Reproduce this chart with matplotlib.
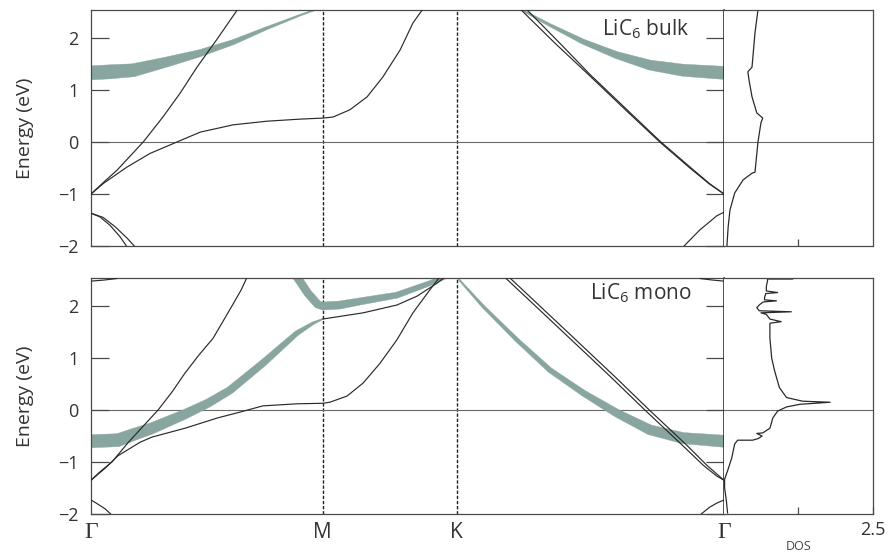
import numpy as np
import matplotlib
matplotlib.use("Agg")
import matplotlib.pyplot as plt

plt.rcParams['font.family'] = ['Open Sans', 'DejaVu Sans']
plt.rcParams['mathtext.default'] = 'regular'

# high-symmetry path  Γ - M - K - Γ  (hexagonal BZ, lengths 1/√3 : 1/3 : 2/3)
K_POINTS = [0.0, 0.577, 0.911, 1.577]
K_LABELS = ['Γ', 'M', 'K', 'Γ']
E_TICKS = [-2, -1, 0, 1, 2]
E_RANGE = (-2.0, 2.54)
DOS_RANGE = (0.0, 2.5)

# ---------------- LiC6 bulk ----------------
BULK_STEEP_K = [0, 0.032, 0.065, 0.130, 0.179, 0.222, 0.264, 0.316, 0.366]
BULK_STEEP_E = [-1.0, -0.77, -0.54, 0.0, 0.48, 0.94, 1.44, 2.0, 2.56]

BULK_LOW_K = [0, 0.032, 0.090, 0.147, 0.214, 0.272, 0.354, 0.438, 0.521, 0.577,
              0.603, 0.645, 0.688, 0.727, 0.770, 0.802, 0.827]
BULK_LOW_E = [-1.0, -0.79, -0.48, -0.22, 0.0, 0.19, 0.33, 0.40, 0.44, 0.46,
              0.48, 0.62, 0.87, 1.25, 1.77, 2.29, 2.56]

BULK_CORE_A_K = [0, 0.022, 0.047, 0.072, 0.090]
BULK_CORE_A_E = [-1.37, -1.44, -1.60, -1.82, -2.02]
BULK_CORE_B_K = [0, 0.030, 0.060, 0.090, 0.110]
BULK_CORE_B_E = [-1.37, -1.45, -1.63, -1.85, -2.02]
BULK_CORE_R_K = [1.475, 1.517, 1.559, 1.577]
BULK_CORE_R_E = [-2.02, -1.69, -1.42, -1.35]

BULK_DIAG_A_K = [1.069, 1.156, 1.243, 1.330, 1.417, 1.492, 1.541, 1.577]
BULK_DIAG_A_E = [2.56, 1.90, 1.27, 0.63, 0.0, -0.50, -0.81, -1.0]
BULK_DIAG_B_K = [1.084, 1.168, 1.243, 1.330, 1.417, 1.492, 1.541, 1.577]
BULK_DIAG_B_E = [2.56, 1.90, 1.30, 0.66, 0.02, -0.48, -0.80, -1.0]

# Li-projected (fat) bands: weight = Li character
BULK_LI_K = [0, 0.047, 0.105, 0.189, 0.272, 0.354, 0.438, 0.521, 0.565]
BULK_LI_E = [1.33, 1.35, 1.38, 1.54, 1.71, 1.92, 2.19, 2.44, 2.56]
BULK_LI_W = [1.0, 1.0, 0.93, 0.71, 0.50, 0.36, 0.21, 0.12, 0.07]

BULK_LI_R_K = [1.069, 1.143, 1.226, 1.310, 1.392, 1.475, 1.577]
BULK_LI_R_E = [2.56, 2.25, 1.93, 1.67, 1.48, 1.38, 1.33]
BULK_LI_R_W = [0.10, 0.21, 0.36, 0.50, 0.71, 0.86, 0.93]

BULK_DOS_E = [2.54, 2.10, 1.44, 1.35, 1.19, 0.87, 0.56, 0.46, 0.37, 0.0,
              -0.58, -0.60, -0.73, -0.98, -1.31, -1.63, -1.98, -2.0]
BULK_DOS = [0.57, 0.52, 0.47, 0.40, 0.42, 0.47, 0.55, 0.65, 0.62, 0.57,
            0.52, 0.47, 0.32, 0.18, 0.10, 0.07, 0.05, 0.05]

# ---------------- LiC6 monolayer ----------------
MONO_STEEP_K = [0, 0.022, 0.052, 0.092, 0.130, 0.167, 0.202, 0.234, 0.269,
                0.304, 0.329, 0.354, 0.374, 0.389]
MONO_STEEP_E = [-1.35, -1.19, -1.0, -0.63, -0.31, 0.0, 0.35, 0.71, 1.06,
                1.38, 1.71, 2.04, 2.31, 2.56]

MONO_LOW_K = [0, 0.035, 0.067, 0.122, 0.152, 0.234, 0.316, 0.371, 0.428, 0.513,
              0.577, 0.595, 0.638, 0.678, 0.720, 0.762, 0.802, 0.844, 0.869]
MONO_LOW_E = [-1.35, -1.12, -0.88, -0.62, -0.52, -0.35, -0.15, -0.04, 0.08, 0.12,
              0.13, 0.15, 0.27, 0.52, 0.90, 1.35, 1.87, 2.31, 2.56]

MONO_DIAG_A_K = [1.030, 1.168, 1.293, 1.380, 1.475, 1.525, 1.559, 1.577]
MONO_DIAG_A_E = [2.56, 1.56, 0.65, 0.0, -0.69, -1.06, -1.27, -1.35]
MONO_DIAG_B_K = [1.041, 1.179, 1.304, 1.391, 1.486, 1.534, 1.565, 1.577]
MONO_DIAG_B_E = [2.56, 1.56, 0.65, 0.0, -0.69, -1.06, -1.27, -1.35]

MONO_CORE_L_K = [0, 0.017, 0.035, 0.052]
MONO_CORE_L_E = [-1.73, -1.81, -1.90, -2.02]
MONO_CORE_R_K = [1.517, 1.541, 1.559, 1.577]
MONO_CORE_R_E = [-2.02, -1.87, -1.79, -1.73]
MONO_TOP_L_K = [0, 0.032, 0.065]
MONO_TOP_L_E = [2.48, 2.50, 2.53]
MONO_TOP_R_K = [1.517, 1.549, 1.577]
MONO_TOP_R_E = [2.53, 2.50, 2.48]

MONO_LI_K = [0, 0.067, 0.110, 0.152, 0.234, 0.291, 0.346, 0.428, 0.513, 0.553,
             0.577, 0.678, 0.762, 0.812, 0.862, 0.882]
MONO_LI_E = [-0.60, -0.58, -0.46, -0.35, -0.08, 0.13, 0.38, 0.90, 1.48, 1.67,
             1.75, 1.87, 2.02, 2.19, 2.44, 2.56]
MONO_LI_W = [0.93, 0.93, 0.86, 0.79, 0.68, 0.60, 0.55, 0.50, 0.36, 0.20,
             0.08, 0, 0, 0, 0, 0]

MONO_V_K = [0.513, 0.540, 0.565, 0.577, 0.620, 0.678, 0.762, 0.844, 0.882]
MONO_V_E = [2.56, 2.25, 2.03, 2.0, 2.02, 2.10, 2.21, 2.44, 2.56]
MONO_V_W = [0.57, 0.57, 0.57, 0.57, 0.57, 0.50, 0.43, 0.36, 0.30]

MONO_LI_R_K = [0.911, 0.976, 1.061, 1.143, 1.226, 1.310, 1.392, 1.475, 1.577]
MONO_LI_R_E = [2.56, 2.0, 1.35, 0.77, 0.33, -0.06, -0.38, -0.54, -0.60]
MONO_LI_R_W = [0.07, 0.21, 0.29, 0.36, 0.43, 0.57, 0.71, 0.79, 0.86]

MONO_DOS_E = [2.52, 2.52, 2.48, 2.38, 2.29, 2.26, 2.24, 2.16, 2.12, 2.10, 2.08,
              2.03, 1.97, 1.91, 1.89, 1.87, 1.84, 1.75, 1.70, 1.67, 1.65, 1.39,
              1.0, 0.75, 0.43, 0.24, 0.17, 0.15, 0.11, 0.06, -0.02, -0.15,
              -0.35, -0.44, -0.45, -0.50, -0.55, -0.58, -0.58, -0.65, -0.92,
              -1.17, -1.33, -1.50, -1.75, -1.98]
MONO_DOS = [1.15, 0.73, 0.73, 0.71, 0.71, 0.90, 0.70, 0.68, 0.68, 0.88, 0.66,
            0.60, 0.55, 0.59, 1.13, 0.62, 0.71, 0.77, 0.96, 0.77, 0.77, 0.77,
            0.80, 0.85, 0.93, 1.05, 1.32, 1.78, 1.27, 1.05, 0.90, 0.82,
            0.77, 0.65, 0.55, 0.64, 0.57, 0.48, 0.23, 0.18, 0.13,
            0.06, 0.01, 0.01, 0.04, 0.06]

BAND_COLOR = '#2a2a2a'
LI_COLOR = '#88a59f'
FRAME_COLOR = '#4a4a4a'
TEXT_COLOR = '#333333'
FAT_PX = 14.0   # ribbon width in pixels for Li weight 1


def thin(ax, k, e):
    ax.plot(k, e, color=BAND_COLOR, lw=0.85, zorder=3, solid_capstyle='round')


def fat(ax, k, e, w):
    """Ribbon of varying width (in screen pixels) around a band."""
    k = np.asarray(k, float)
    e = np.asarray(e, float)
    w = np.asarray(w, float)
    n_fat = int(np.sum(w > 0))
    if n_fat < len(w):
        # rest of the band carries no Li weight: plain line
        thin(ax, k[n_fat - 1:], e[n_fat - 1:])
    k, e, w = k[:n_fat], e[:n_fat], w[:n_fat]

    tr = ax.transData
    pts = tr.transform(np.column_stack([k, e]))
    d = np.gradient(pts, axis=0)
    nrm = np.column_stack([-d[:, 1], d[:, 0]])
    nrm /= np.linalg.norm(nrm, axis=1)[:, None]
    half = np.maximum(w * FAT_PX, 1.3)[:, None] / 2
    poly = np.vstack([pts + nrm * half, (pts - nrm * half)[::-1]])
    poly = tr.inverted().transform(poly)
    ax.fill(poly[:, 0], poly[:, 1], color=LI_COLOR, lw=0.3, ec=LI_COLOR,
            zorder=2)


def style_band_axes(ax, bottom_labels):
    ax.set_xlim(K_POINTS[0], K_POINTS[-1])
    ax.set_ylim(*E_RANGE)
    for s in ax.spines.values():
        s.set_color(FRAME_COLOR)
        s.set_linewidth(0.9)
    ax.spines['right'].set_color('#222222')
    ax.spines['right'].set_linewidth(1.1)
    ax.set_yticks(E_TICKS, [str(v).replace('-', '\u2212') for v in E_TICKS])
    ax.tick_params(axis='y', direction='in', length=13, width=0.9,
                   color=FRAME_COLOR, left=True, right=True,
                   labelsize=13, labelcolor=TEXT_COLOR, pad=9)
    for k in K_POINTS[1:3]:
        ax.axvline(k, color='#222222', lw=1.0, ls=(0, (2.4, 1.3)), zorder=1)
    ax.axhline(0, color='#6a6a6a', lw=0.8, zorder=1)
    ax.set_ylabel('Energy (eV)', fontsize=14, color=TEXT_COLOR)
    ax.yaxis.set_label_coords(-0.09, 0.5)
    if bottom_labels:
        ax.set_xticks(K_POINTS, K_LABELS)
        ax.tick_params(axis='x', length=0, pad=6, labelsize=15,
                       labelcolor=TEXT_COLOR)
        for lab in ax.get_xticklabels():
            if lab.get_text() == 'Γ':
                lab.set_fontfamily('Liberation Serif')
                lab.set_fontsize(17)
    else:
        ax.set_xticks([])


def style_dos_axes(ax, bottom_labels):
    ax.set_xlim(*DOS_RANGE)
    ax.set_ylim(*E_RANGE)
    for s in ax.spines.values():
        s.set_color(FRAME_COLOR)
        s.set_linewidth(0.9)
    ax.spines['left'].set_visible(False)
    ax.set_yticks([])
    ax.axhline(0, color='#6a6a6a', lw=0.8, zorder=1)
    if bottom_labels:
        ax.set_xticks([1.25, 2.5], ['', '2.5'])
        ax.set_xlabel('DOS', fontsize=9, color='#444444', labelpad=1)
    else:
        ax.set_xticks([1.25], [''])
    ax.tick_params(axis='x', direction='in', length=5, width=0.9,
                   color=FRAME_COLOR, labelsize=13, labelcolor=TEXT_COLOR, pad=5)


fig = plt.figure(figsize=(8.89, 5.53), dpi=100)
ax_bulk = fig.add_axes([0.1024, 0.5552, 0.7120, 0.4268])
ax_bulk_dos = fig.add_axes([0.8144, 0.5552, 0.1676, 0.4268])
ax_mono = fig.add_axes([0.1024, 0.0705, 0.7120, 0.4268])
ax_mono_dos = fig.add_axes([0.8144, 0.0705, 0.1676, 0.4268])

# bulk
style_band_axes(ax_bulk, False)
for k, e in [(BULK_STEEP_K, BULK_STEEP_E), (BULK_LOW_K, BULK_LOW_E),
             (BULK_CORE_A_K, BULK_CORE_A_E), (BULK_CORE_B_K, BULK_CORE_B_E),
             (BULK_CORE_R_K, BULK_CORE_R_E), (BULK_DIAG_A_K, BULK_DIAG_A_E),
             (BULK_DIAG_B_K, BULK_DIAG_B_E)]:
    thin(ax_bulk, k, e)
fat(ax_bulk, BULK_LI_K, BULK_LI_E, BULK_LI_W)
fat(ax_bulk, BULK_LI_R_K, BULK_LI_R_E, BULK_LI_R_W)
ax_bulk.text(0.946, 0.92, 'LiC$_6$ bulk', transform=ax_bulk.transAxes,
             ha='right', va='center', fontsize=15, color=TEXT_COLOR)

style_dos_axes(ax_bulk_dos, False)
ax_bulk_dos.plot(BULK_DOS, BULK_DOS_E, color=BAND_COLOR, lw=0.9)

# monolayer
style_band_axes(ax_mono, True)
for k, e in [(MONO_STEEP_K, MONO_STEEP_E), (MONO_LOW_K, MONO_LOW_E),
             (MONO_DIAG_A_K, MONO_DIAG_A_E), (MONO_DIAG_B_K, MONO_DIAG_B_E),
             (MONO_CORE_L_K, MONO_CORE_L_E), (MONO_CORE_R_K, MONO_CORE_R_E),
             (MONO_TOP_L_K, MONO_TOP_L_E), (MONO_TOP_R_K, MONO_TOP_R_E)]:
    thin(ax_mono, k, e)
fat(ax_mono, MONO_LI_K, MONO_LI_E, MONO_LI_W)
fat(ax_mono, MONO_V_K, MONO_V_E, MONO_V_W)
fat(ax_mono, MONO_LI_R_K, MONO_LI_R_E, MONO_LI_R_W)
ax_mono.text(0.949, 0.935, 'LiC$_6$ mono', transform=ax_mono.transAxes,
             ha='right', va='center', fontsize=15, color=TEXT_COLOR)

style_dos_axes(ax_mono_dos, True)
ax_mono_dos.plot(MONO_DOS, MONO_DOS_E, color=BAND_COLOR, lw=0.9)

fig.savefig('out.png', dpi=100)
